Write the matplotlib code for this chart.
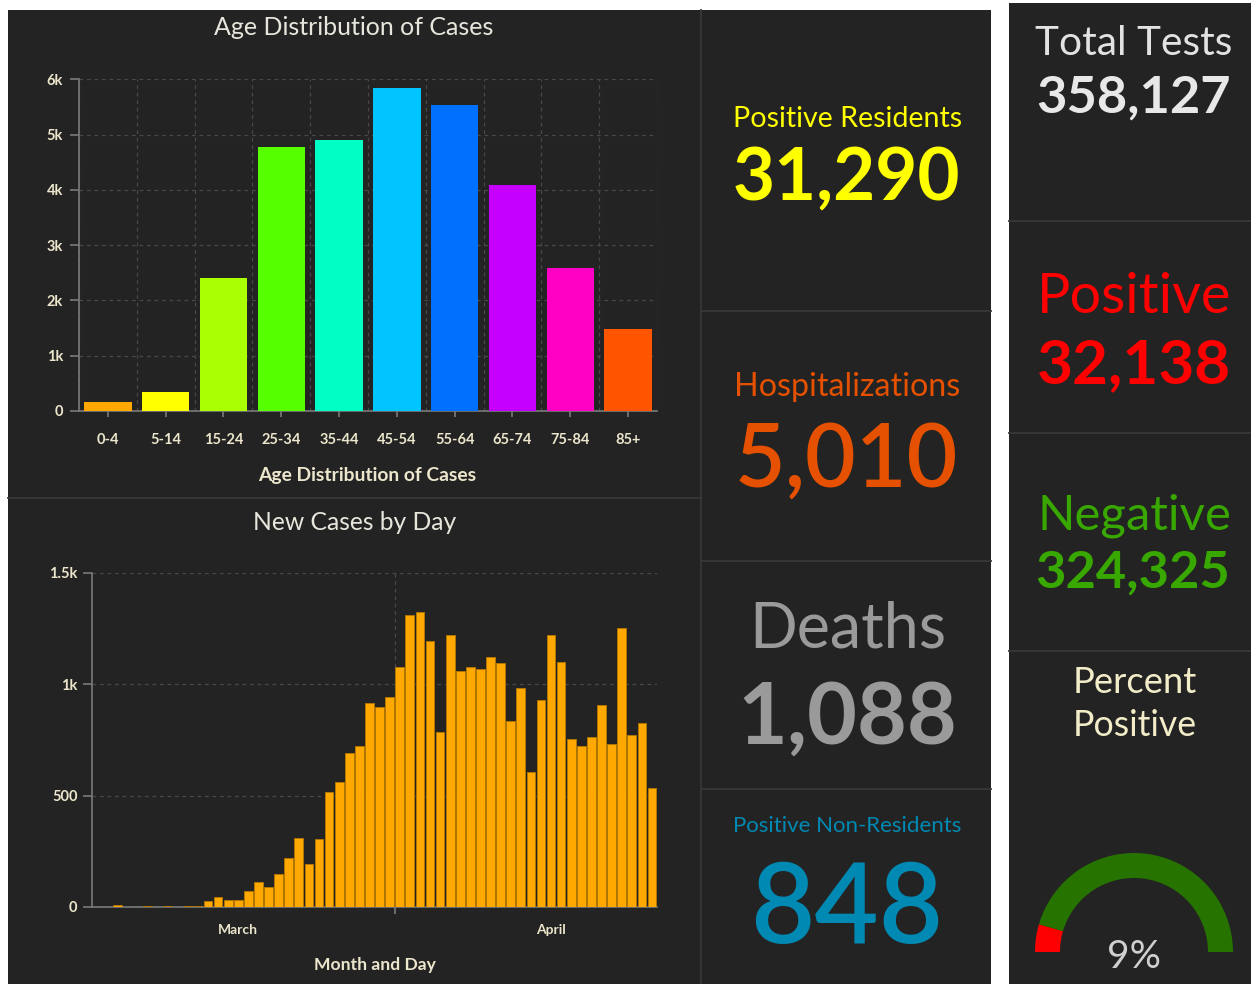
import matplotlib
matplotlib.use("Agg")
import matplotlib.pyplot as plt
import matplotlib.dates as mdates
from matplotlib.patches import Rectangle, Wedge
from matplotlib.lines import Line2D
from matplotlib.ticker import FuncFormatter, MultipleLocator, FixedLocator
import pandas as pd
import numpy as np

# ---------------- data ----------------
age_groups = ['0-4', '5-14', '15-24', '25-34', '35-44', '45-54', '55-64', '65-74', '75-84', '85+']
age_cases = [170, 350, 2410, 4780, 4910, 5850, 5540, 4080, 2590, 1490]
age_colors = ['#FFA800', '#FFFF00', '#AAFF00', '#55FF00', '#00FFC5',
              '#00C5FF', '#0070FF', '#C500FF', '#FF00C5', '#FF5500']

start_date = '2020-02-16'
daily_cases = [1, 1, 7, 1, 0, 6, 0, 6, 0, 5,
               5, 27, 45, 33, 33, 72, 111, 90, 148, 220,
               310, 193, 305, 517, 562, 692, 723, 916, 898, 943,
               1079, 1312, 1324, 1196, 788, 1222, 1060, 1079, 1067, 1124,
               1098, 834, 982, 608, 930, 1222, 1099, 755, 724, 763,
               905, 732, 1254, 774, 827, 536]
month_label_dates = ['2020-03-01', '2020-04-01']
month_labels = ['March', 'April']
grid_date = '2020-03-17'

total_tests = 358127
positive_tests = 32138
negative_tests = 324325
positive_residents = 31290
hospitalizations = 5010
deaths = 1088
positive_non_residents = 848
percent_positive = 9

# ---------------- figure ----------------
W, H = 1251, 984
fig = plt.figure(figsize=(W / 100, H / 100), dpi=100)
fig.patch.set_facecolor('white')
FONT = ['Lato', 'DejaVu Sans']
BG = '#232323'
DIV = '#383838'
CREAM = '#ECE6CC'


def rect_px(x0, y0, x1, y1):
    return [x0 / W, 1 - y1 / H, (x1 - x0) / W, (y1 - y0) / H]


def box(x0, y0, x1, y1, color):
    fig.add_artist(Rectangle((x0 / W, 1 - y1 / H), (x1 - x0) / W, (y1 - y0) / H,
                             transform=fig.transFigure, color=color, zorder=0, lw=0))


def line(x0, y0, x1, y1):
    fig.add_artist(Line2D([x0 / W, x1 / W], [1 - y0 / H, 1 - y1 / H],
                          transform=fig.transFigure, color=DIV, lw=1.3, zorder=1))


box(8, 10, 991, 984, BG)
box(1009, 3, 1251, 984, BG)
line(701, 10, 701, 984)
line(8, 498, 701, 498)
for yy in (311, 561, 789):
    line(701, yy, 991, yy)
for yy in (221, 433, 651):
    line(1009, yy, 1251, yy)

renderer = fig.canvas.get_renderer()


def put(s, cx, base_y, width, color, weight='normal', size0=30):
    t = fig.text(cx / W, 1 - base_y / H, s, ha='center', va='baseline', color=color,
                 fontsize=size0, fontweight=weight, family=FONT, zorder=5)
    w = t.get_window_extent(renderer).width
    t.set_fontsize(size0 * width / w)
    return t


def kfmt(v, pos):
    if v >= 1000:
        return f"{v / 1000:g}k"
    return f"{v:g}"


def style_axis(ax):
    ax.set_facecolor('none')
    for s in ('top', 'right'):
        ax.spines[s].set_visible(False)
    for s in ('left', 'bottom'):
        ax.spines[s].set_color('#7a7a7a')
        ax.spines[s].set_linewidth(1.2)
    ax.tick_params(colors='#7a7a7a', labelcolor=CREAM, labelsize=10.5, width=1.2)
    for lab in ax.get_xticklabels() + ax.get_yticklabels():
        lab.set_fontfamily(FONT)
        lab.set_fontweight('bold')


# ---------------- Age distribution chart ----------------
ax1 = fig.add_axes(rect_px(79, 79.3, 657, 411))
xpos = np.arange(len(age_groups))
ax1.bar(xpos, age_cases, width=0.82, color=age_colors, zorder=3)
ax1.set_xlim(-0.5, len(age_groups) - 0.5)
ax1.set_ylim(0, 6000)
ax1.set_xticks(xpos)
ax1.set_xticklabels(age_groups)
ax1.yaxis.set_major_locator(MultipleLocator(1000))
ax1.yaxis.set_major_formatter(FuncFormatter(kfmt))
ax1.xaxis.set_minor_locator(FixedLocator(np.arange(len(age_groups) + 1) - 0.5))
ax1.grid(True, which='major', axis='y', color='#484848', ls=(0, (3, 3)), lw=0.9)
ax1.grid(True, which='minor', axis='x', color='#484848', ls=(0, (3, 3)), lw=0.9)
ax1.tick_params(axis='x', which='minor', length=0)
ax1.tick_params(axis='y', length=6.5, pad=5)
ax1.tick_params(axis='x', which='major', length=4.5, pad=11)
style_axis(ax1)

# ---------------- Daily cases chart ----------------
ax2 = fig.add_axes(rect_px(92, 573, 657, 907))
dates = pd.date_range(start_date, periods=len(daily_cases))
xd = mdates.date2num(dates) + 0.5
ax2.bar(xd, daily_cases, width=0.86, color='#FFA800', edgecolor='#B27600', lw=0.7, zorder=3)
ax2.set_xlim(xd[0] - 0.5, xd[-1] + 0.5)
ax2.set_ylim(0, 1500)
ax2.yaxis.set_major_locator(MultipleLocator(500))
ax2.yaxis.set_major_formatter(FuncFormatter(kfmt))
gx = mdates.date2num(pd.Timestamp(grid_date))
ax2.set_xticks([gx])
ax2.set_xticklabels([''])
mx = mdates.date2num(pd.to_datetime(month_label_dates)) + 0.5
ax2.set_xticks(mx, minor=True)
ax2.set_xticklabels(month_labels, minor=True)
ax2.tick_params(axis='x', which='minor', length=0, pad=12)
ax2.tick_params(axis='x', which='major', length=5)
ax2.tick_params(axis='y', length=6.5, pad=4)
ax2.grid(True, which='major', color='#484848', ls=(0, (3, 3)), lw=0.9)
style_axis(ax2)
for lab in ax2.get_xticklabels(minor=True):
    lab.set_fontfamily(FONT)
    lab.set_fontweight('bold')
    lab.set_color(CREAM)

# ---------------- chart titles ----------------
put('Age Distribution of Cases', 354, 35, 280, '#E8E6DC')
put('Age Distribution of Cases', 367.5, 481, 219, CREAM, weight='bold')
put('New Cases by Day', 354.5, 530, 203, '#E8E6DC')
put('Month and Day', 374.5, 970, 121, CREAM, weight='bold')

# ---------------- middle column indicators ----------------
put('Positive Residents', 847.5, 127, 229, '#FFFF00')
put(f'{positive_residents:,}', 846.5, 200, 227, '#FFFF00', weight='bold')
put('Hospitalizations', 847.5, 396, 226, '#E55100')
put(f'{hospitalizations:,}', 846.5, 486.7, 223, '#E55100', weight='semibold')
put('Deaths', 847.5, 647, 197, '#9A9A9A')
put(f'{deaths:,}', 847.5, 744, 219, '#9A9A9A', weight='bold')
put('Positive Non-Residents', 847, 832, 228, '#0089B3')
put(f'{positive_non_residents:,}', 847, 943, 192, '#0089B3', weight='semibold')

# ---------------- right column indicators ----------------
put('Total Tests', 1133.5, 55, 197, '#E2E2E2')
put(f'{total_tests:,}', 1133, 113, 194, '#E8E8E8', weight='bold')
put('Positive', 1134, 313, 194, '#FF0000')
put(f'{positive_tests:,}', 1134, 383, 194, '#FF0000', weight='bold')
put('Negative', 1134, 530, 194, '#38A800')
put(f'{negative_tests:,}', 1133, 588, 194, '#38A800', weight='bold')
put('Percent', 1135, 693, 124, '#F2EDC8')
put('Positive', 1135, 736, 124, '#F2EDC8')

# ---------------- gauge ----------------
axg = fig.add_axes(rect_px(1024, 842, 1244, 984))
axg.set_xlim(-110, 110)
axg.set_ylim(-32, 110)
axg.axis('off')
red_span = percent_positive / 100 * 180
axg.add_patch(Wedge((0, 0), 99, 0, 180 - red_span, width=25, color='#267300', lw=0))
axg.add_patch(Wedge((0, 0), 99, 180 - red_span, 180, width=25, color='#FF0000', lw=0))
put(f'{percent_positive}%', 1134, 968, 54, '#CFCFCF')

fig.savefig('out.png', dpi=100, facecolor='white')
